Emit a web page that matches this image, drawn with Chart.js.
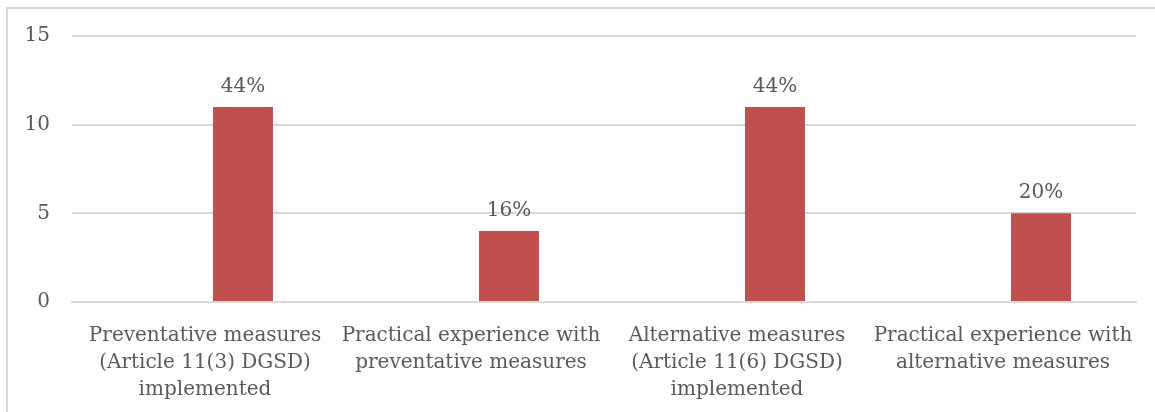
<!DOCTYPE html>
<html>
<head>
<meta charset="utf-8">
<script src="https://cdn.jsdelivr.net/npm/chart.js@4.4.1/dist/chart.umd.min.js"></script>
<style>
  html, body { margin: 0; padding: 0; background: #fff; overflow: hidden; }
  #wrap { position: relative; width: 1155px; height: 412px; overflow: hidden; }
  #frame {
    position: absolute; left: 6px; top: 7px; width: 1160px; height: 420px;
    border-left: 2px solid #d9d9d9; border-top: 2px solid #d9d9d9;
    box-sizing: border-box; pointer-events: none;
  }
  canvas { position: absolute; left: 0; top: 0; }
</style>
</head>
<body>
<div id="wrap">
  <div id="frame"></div>
  <canvas id="chart" width="1155" height="412"></canvas>
</div>
<script>
// Survey answers (count of respondents out of 25)
const categories = [
  ["Preventative measures", "(Article 11(3) DGSD)", "implemented"],
  ["Practical experience with", "preventative measures"],
  ["Alternative measures", "(Article 11(6) DGSD)", "implemented"],
  ["Practical experience with", "alternative measures"],
];
const counts = [11, 4, 11, 5];
const respondents = 25;
const placeholder = [null, null, null, null]; // empty first series, shifts bars right
const yTicks = [0, 5, 10, 15];

const textColor = "#595959";
const fontFamily = "'DejaVu Serif', serif";

// percentage labels above the bars
const barLabels = {
  id: "barLabels",
  afterDatasetsDraw(chart) {
    const ctx = chart.ctx;
    const meta = chart.getDatasetMeta(1);
    ctx.save();
    ctx.font = "20px " + fontFamily;
    ctx.fillStyle = textColor;
    ctx.textAlign = "center";
    ctx.textBaseline = "alphabetic";
    meta.data.forEach((bar, i) => {
      const pct = Math.round((counts[i] / respondents) * 100) + "%";
      ctx.fillText(pct, bar.x, bar.y - 15);
    });
    ctx.restore();
  },
};

new Chart(document.getElementById("chart"), {
  type: "bar",
  data: {
    labels: categories,
    datasets: [
      { label: "", data: placeholder, backgroundColor: "#c0504d" },
      {
        label: "Count",
        data: counts,
        backgroundColor: "#c0504d",
        borderWidth: 0,
      },
    ],
  },
  options: {
    responsive: false,
    animation: false,
    devicePixelRatio: 1,
    categoryPercentage: 0.571,
    barPercentage: 0.79,
    layout: { padding: { top: 36, right: 19, left: 0, bottom: 0 } },
    plugins: {
      legend: { display: false },
      tooltip: { enabled: false },
    },
    scales: {
      x: {
        grid: { display: false },
        border: { display: true, color: "#d9d9d9", width: 2 },
        ticks: {
          color: textColor,
          font: { family: fontFamily, size: 20, lineHeight: 1.35 },
          padding: 12,
          maxRotation: 0,
          autoSkip: false,
        },
        afterFit(scale) { scale.height = 110; },
      },
      y: {
        min: 0,
        max: 15,
        afterBuildTicks(scale) { scale.ticks = yTicks.map((v) => ({ value: v })); },
        grid: { color: "#d9d9d9", lineWidth: 2, drawTicks: false },
        border: { display: false },
        ticks: {
          color: textColor,
          font: { family: fontFamily, size: 20 },
          padding: 22,
        },
        afterFit(scale) { scale.width = 72; },
      },
    },
  },
  plugins: [barLabels],
});
</script>
</body>
</html>
